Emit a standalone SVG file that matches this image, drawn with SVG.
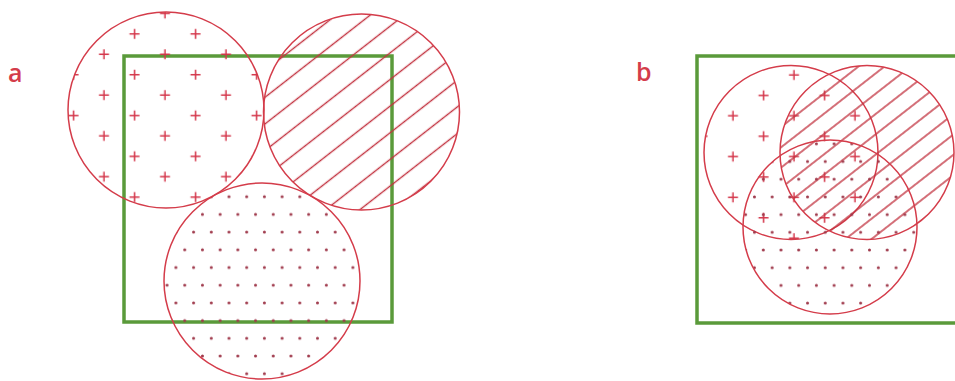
<svg xmlns="http://www.w3.org/2000/svg" width="955" height="381" viewBox="0 0 955 381">
<style>
.bg{fill:#ffffff}
.box{fill:none;stroke:#5a9a3a;stroke-width:3.5}
.ring{stroke:#d43c4a;stroke-width:1.5}
.cr{stroke:#d4364a;stroke-width:1.5;fill:none}
.hl{stroke:#c2323f;stroke-width:1.4}
.dt{fill:#a03a4c}
.lbl{font-family:"Open Sans","Liberation Sans",sans-serif;font-size:25px;font-weight:600;fill:#d43c4a}
</style>
<defs>
<g id="plus"><path class="cr" d="M-5 0H5M0 -5V5"/></g>
<pattern id="crossA" patternUnits="userSpaceOnUse" x="149.75" y="3.3" width="61" height="40.8">
<use href="#plus" x="15.25" y="10.2"/><use href="#plus" x="45.75" y="30.6"/>
</pattern>
<pattern id="crossB" patternUnits="userSpaceOnUse" x="778.75" y="64.8" width="61" height="40.8">
<use href="#plus" x="15.25" y="10.2"/><use href="#plus" x="45.75" y="30.6"/>
</pattern>
<pattern id="dotA" patternUnits="userSpaceOnUse" x="224.6" y="187.85" width="17.7" height="35.4">
<circle class="dt" cx="4.4" cy="8.85" r="1.5"/><circle class="dt" cx="13.25" cy="26.55" r="1.5"/>
</pattern>
<pattern id="dotB" patternUnits="userSpaceOnUse" x="758.9" y="241.15" width="17.7" height="35.4">
<circle class="dt" cx="4.4" cy="8.85" r="1.5"/><circle class="dt" cx="13.25" cy="26.55" r="1.5"/>
</pattern>
<pattern id="hatchA" patternUnits="userSpaceOnUse" width="20" height="21" patternTransform="translate(392,78) rotate(-38) translate(0,-10.5)">
<line class="hl" x1="-1" y1="10.5" x2="21" y2="10.5"/>
</pattern>
<pattern id="hatchB" patternUnits="userSpaceOnUse" width="20" height="16" patternTransform="translate(880,70) rotate(-38) translate(0,-8)">
<line class="hl" x1="-1" y1="8" x2="21" y2="8"/>
</pattern>
</defs>
<rect class="bg" x="0" y="0" width="955" height="381"/>
<g id="panel-a">
<text class="lbl" x="8" y="82">a</text>
<rect id="boxA" class="box" x="124" y="56" width="268" height="266"/>
<g id="a-plus"><circle class="ring" cx="166" cy="110" r="98" fill="url(#crossA)"/></g>
<g id="a-hatch"><circle class="ring" cx="361.5" cy="112" r="98" fill="url(#hatchA)"/></g>
<g id="a-dots"><circle class="ring" cx="262" cy="281" r="98" fill="url(#dotA)"/></g>
</g>
<g id="panel-b">
<text class="lbl" x="636" y="81">b</text>
<rect id="boxB" class="box" x="697" y="56" width="270" height="267"/>
<g id="b-plus"><circle class="ring" cx="791" cy="152.5" r="87" fill="url(#crossB)"/></g>
<g id="b-hatch"><circle class="ring" cx="867" cy="152.5" r="87" fill="url(#hatchB)"/></g>
<g id="b-dots"><circle class="ring" cx="830" cy="227" r="87" fill="url(#dotB)"/></g>
</g>
</svg>
